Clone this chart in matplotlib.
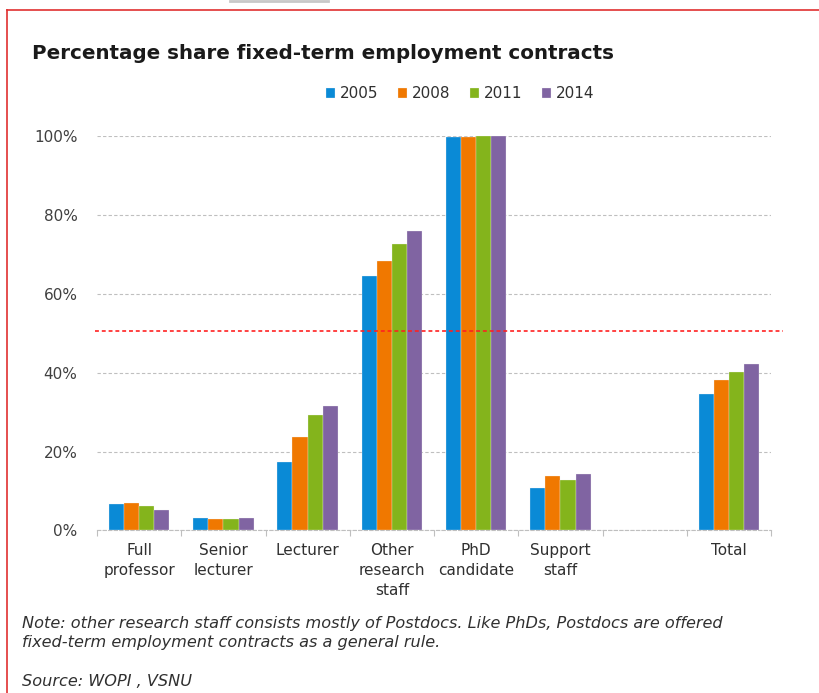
import numpy as np
import matplotlib
matplotlib.use('Agg')
import matplotlib.pyplot as plt
from matplotlib.lines import Line2D
import matplotlib.transforms as mtransforms

# 数据：各职位固定期限合同占比 (%)
categories = ['Full\nprofessor', 'Senior\nlecturer', 'Lecturer', 'Other\nresearch\nstaff',
              'PhD\ncandidate', 'Support\nstaff', '', 'Total']
years = ['2005', '2008', '2011', '2014']
share_2005 = [6.6, 3.2, 17.4, 64.6, 99.7, 10.8, np.nan, 34.5]
share_2008 = [7.0, 2.8, 23.8, 68.4, 99.7, 13.8, np.nan, 38.2]
share_2011 = [6.3, 2.8, 29.2, 72.6, 100.0, 12.7, np.nan, 40.1]
share_2014 = [5.1, 3.2, 31.5, 76.0, 100.0, 14.2, np.nan, 42.1]
reference_level = 50.6

colors = ['#0A8AD6', '#F07800', '#84B41C', '#8064A2']

plt.rcParams['font.family'] = 'DejaVu Sans'

fig = plt.figure(figsize=(8.2, 6.93), dpi=100)
ax = fig.add_axes([0.1183, 0.2345, 0.822, 0.5693])

x = np.arange(len(categories))
width = 0.18
series = [share_2005, share_2008, share_2011, share_2014]
for i, (vals, col, yr) in enumerate(zip(series, colors, years)):
    ax.bar(x + (i - 1.5) * width, vals, width, color=col, label=yr,
           edgecolor='#f4f4f4', linewidth=0.2, zorder=3)

ax.set_xlim(-0.5, len(categories) - 0.5)
ax.set_ylim(0, 100)
ax.set_yticks([0, 20, 40, 60, 80, 100])
ax.set_yticklabels([f'{v}%' for v in [0, 20, 40, 60, 80, 100]], fontsize=11, color='#404040')
ax.tick_params(axis='y', length=0, pad=14)

ax.set_xticks(x)
ax.set_xticklabels(categories, fontsize=11, color='#303030', linespacing=1.4)
ax.tick_params(axis='x', length=0, pad=9)
ax.set_xticks(np.arange(-0.5, len(categories)), minor=True)
ax.tick_params(axis='x', which='minor', length=4, color='#BFBFBF', width=0.8)

# 虚线网格
ax.yaxis.grid(True, color='#BFBFBF', linestyle=(0, (3, 2)), linewidth=0.8, zorder=0)
for s in ['left', 'right', 'top']:
    ax.spines[s].set_visible(False)
ax.spines['bottom'].set_color('#BFBFBF')
ax.spines['bottom'].set_linestyle((0, (3, 2)))
ax.spines['bottom'].set_linewidth(0.8)

# 50% 红色参考线
trans = mtransforms.blended_transform_factory(ax.transAxes, ax.transData)
ax.plot([-0.003, 1.018], [reference_level, reference_level], transform=trans,
        color='#FF2020', linestyle=(0, (2, 1.5)), linewidth=1.4, alpha=0.85,
        clip_on=False, zorder=4)

fig.text(0.039, 0.923, 'Percentage share fixed-term employment contracts',
         fontsize=14.3, fontweight='bold', color='#1a1a1a', va='center', ha='left')

fig.legend(loc='center', bbox_to_anchor=(0.561, 0.865), ncol=4, frameon=False,
           fontsize=11, handlelength=0.6, handleheight=0.6, handletextpad=0.3,
           columnspacing=1.3, labelcolor='#303030')

fig.text(0.027, 0.087, 'Note: other research staff consists mostly of Postdocs. Like PhDs, Postdocs are offered\n'
         'fixed-term employment contracts as a general rule.',
         fontsize=11.6, style='italic', color='#303030', va='center', ha='left', linespacing=1.3)
fig.text(0.027, 0.016, 'Source: WOPI , VSNU', fontsize=11.6, style='italic',
         color='#303030', va='center', ha='left')

# 外框（红色）
fig.add_artist(Line2D([0.0085, 0.0085], [0, 0.986], transform=fig.transFigure,
                      color='#E03030', linewidth=1.2))
fig.add_artist(Line2D([0.0085, 1.0], [0.986, 0.986], transform=fig.transFigure,
                      color='#E03030', linewidth=1.2))
fig.add_artist(Line2D([0.28, 0.40], [0.998, 0.998], transform=fig.transFigure,
                      color='#C8C8C8', linewidth=2))

fig.savefig('out.png', dpi=100, facecolor='white')
